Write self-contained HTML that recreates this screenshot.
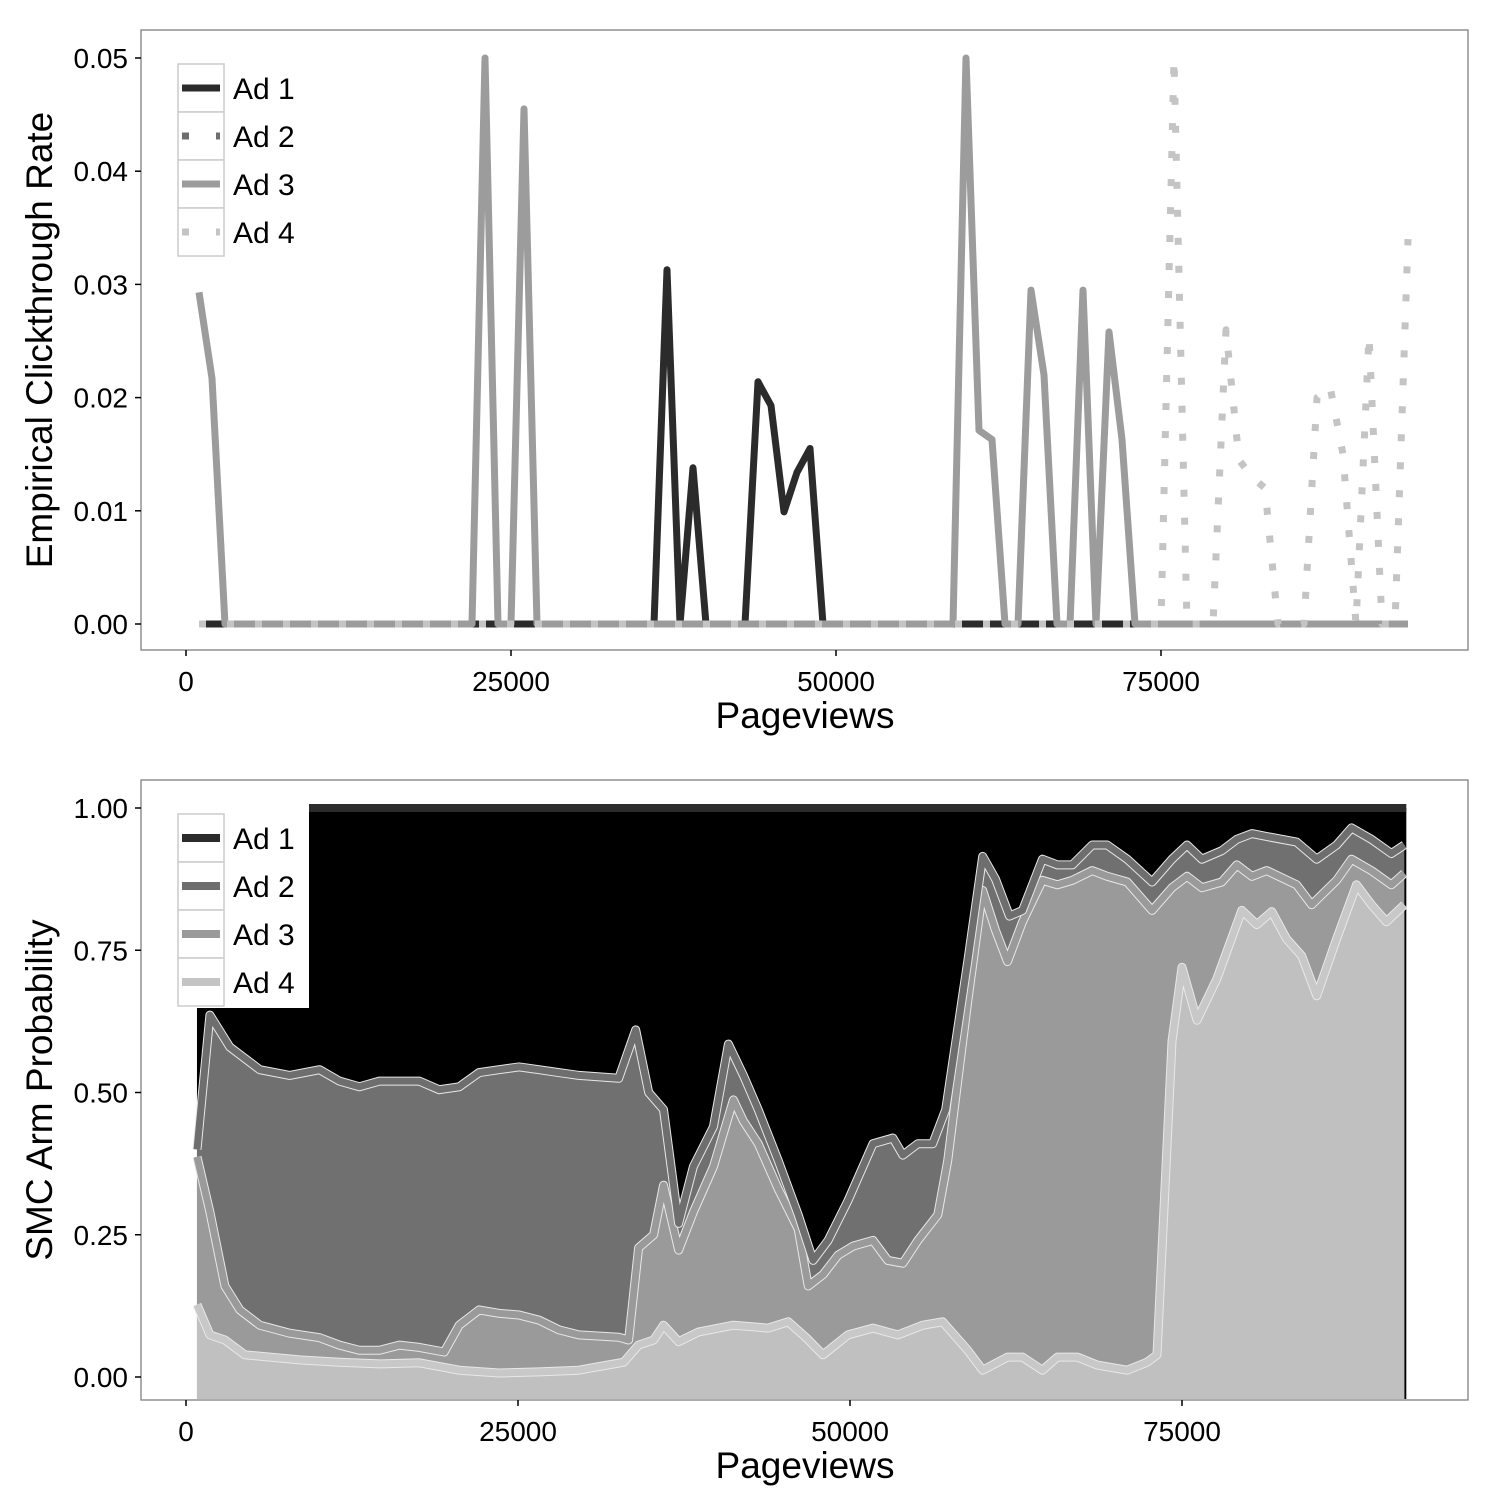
<!DOCTYPE html>
<html><head><meta charset="utf-8"><style>
html,body{margin:0;padding:0;background:#fff;}
svg{display:block;font-family:"Liberation Sans",Arial,sans-serif;}
</style></head><body>
<svg id="chart" width="1500" height="1500" viewBox="0 0 1500 1500" xmlns="http://www.w3.org/2000/svg">
<rect x="0" y="0" width="1500" height="1500" fill="#fff"/>
<g id="topPanel"></g>
<g id="botPanel"></g>
</svg>
<script>
// ---------- top chart data ----------
const ctrXTicks = [0, 25000, 50000, 75000];
const ctrXTickLabels = ["0", "25000", "50000", "75000"];
const ctrYTicks = [0, 0.01, 0.02, 0.03, 0.04, 0.05];
const ctrYTickLabels = ["0.00", "0.01", "0.02", "0.03", "0.04", "0.05"];
const seriesNames = ["Ad 1", "Ad 2", "Ad 3", "Ad 4"];
const ad1Pv = [1000, 36000, 37000, 38000, 39000, 40000, 43000, 44000, 45000, 46000, 47000, 48000, 49000, 94000];
const ad1Ctr = [0, 0, 0.0313, 0, 0.0138, 0, 0, 0.0214, 0.0193, 0.0099, 0.0134, 0.0155, 0, 0];
const ad2Pv = [1000, 94000];
const ad2Ctr = [0, 0];
const ad3Pv = [1000, 2000, 3000, 22000, 23000, 24000, 25000, 26000, 27000, 59000, 60000, 61000, 62000, 63000, 64000, 65000, 66000, 67000, 68000, 69000, 70000, 71000, 72000, 73000, 94000];
const ad3Ctr = [0.0293, 0.0217, 0, 0, 0.05, 0, 0, 0.0455, 0, 0, 0.05, 0.0171, 0.0163, 0, 0, 0.0295, 0.022, 0, 0, 0.0295, 0, 0.0258, 0.0163, 0, 0];
const ad4Pv = [1000, 75000, 76000, 77000, 79000, 80000, 81000, 82000, 83000, 84000, 86000, 87000, 88000, 89000, 90000, 91000, 92000, 93000, 94000];
const ad4Ctr = [0, 0, 0.05, 0, 0, 0.026, 0.0145, 0.013, 0.012, 0, 0, 0.02, 0.021, 0.015, 0, 0.0255, 0, 0, 0.034];

// ---------- bottom chart data (cumulative stack boundaries) ----------
const smcXTicks = [0, 25000, 50000, 75000];
const smcXTickLabels = ["0", "25000", "50000", "75000"];
const smcYTicks = [0, 0.25, 0.5, 0.75, 1];
const smcYTickLabels = ["0.00", "0.25", "0.50", "0.75", "1.00"];
const stack234Pv = [826, 1800, 3300, 5560, 7810, 10060, 11560, 13060, 14570, 16070, 17570, 19070, 20570, 22070, 23570, 25080, 26580, 28080, 29580, 32580, 33860, 34840, 35960, 37090, 38210, 39720, 40840, 41970, 43090, 44600, 46100, 47220, 48350, 49850, 51730, 53230, 53980, 55110, 56230, 57210, 58860, 59990, 60960, 62010, 62990, 64490, 65620, 66740, 68240, 69370, 70870, 72750, 74250, 75380, 76500, 78000, 79130, 80260, 81380, 83630, 85140, 86640, 87760, 89260, 90770, 91740];
const stack234Val = [0.40, 0.636, 0.58, 0.54, 0.53, 0.54, 0.52, 0.51, 0.52, 0.52, 0.52, 0.505, 0.51, 0.535, 0.54, 0.545, 0.54, 0.535, 0.53, 0.525, 0.61, 0.50, 0.47, 0.27, 0.37, 0.44, 0.585, 0.53, 0.47, 0.38, 0.285, 0.205, 0.24, 0.31, 0.41, 0.42, 0.39, 0.41, 0.41, 0.47, 0.73, 0.915, 0.875, 0.81, 0.82, 0.91, 0.90, 0.90, 0.935, 0.935, 0.91, 0.87, 0.91, 0.935, 0.91, 0.925, 0.945, 0.955, 0.95, 0.94, 0.91, 0.935, 0.965, 0.945, 0.92, 0.935];
const stack34Pv = [826, 1800, 2930, 4050, 5560, 7810, 10060, 11560, 13060, 14570, 16070, 17570, 19440, 20570, 22070, 23570, 25080, 26580, 28080, 29580, 32580, 33330, 34080, 35210, 35960, 37090, 38210, 39720, 41220, 41970, 43090, 44600, 46100, 46850, 47970, 49100, 50230, 51730, 52850, 53980, 55110, 56610, 57360, 58860, 59990, 60960, 61860, 62990, 64490, 65620, 66740, 68240, 69370, 70870, 72750, 74250, 75380, 76500, 78000, 79130, 80260, 81380, 83630, 84760, 86640, 87760, 89260, 90770, 91740];
const stack34Val = [0.387, 0.29, 0.16, 0.118, 0.091, 0.077, 0.069, 0.056, 0.047, 0.047, 0.056, 0.052, 0.044, 0.091, 0.118, 0.112, 0.109, 0.10, 0.083, 0.074, 0.07, 0.065, 0.227, 0.25, 0.337, 0.223, 0.29, 0.37, 0.487, 0.45, 0.41, 0.33, 0.26, 0.16, 0.18, 0.214, 0.23, 0.24, 0.205, 0.20, 0.24, 0.285, 0.38, 0.66, 0.855, 0.785, 0.73, 0.80, 0.873, 0.865, 0.873, 0.89, 0.88, 0.87, 0.82, 0.86, 0.88, 0.86, 0.87, 0.90, 0.88, 0.89, 0.865, 0.83, 0.873, 0.91, 0.89, 0.865, 0.885];
const stack4Pv = [826, 1800, 2930, 4430, 6310, 8560, 11560, 14570, 17570, 20570, 23570, 26580, 29580, 32960, 34080, 35210, 35960, 37090, 38590, 41220, 43840, 45350, 46700, 47970, 49850, 51730, 53600, 55480, 56980, 58860, 59990, 61860, 62990, 64490, 65620, 67120, 68620, 70870, 72370, 73120, 74250, 75000, 76130, 77630, 79500, 80630, 81760, 82880, 84010, 85140, 86640, 88140, 89260, 90390, 91740];
const stack4Val = [0.127, 0.074, 0.065, 0.039, 0.035, 0.03, 0.026, 0.023, 0.025, 0.012, 0.007, 0.009, 0.012, 0.026, 0.056, 0.065, 0.091, 0.062, 0.079, 0.091, 0.086, 0.097, 0.069, 0.039, 0.074, 0.086, 0.074, 0.091, 0.097, 0.047, 0.012, 0.035, 0.035, 0.012, 0.035, 0.035, 0.021, 0.012, 0.026, 0.039, 0.59, 0.72, 0.627, 0.70, 0.82, 0.795, 0.818, 0.77, 0.74, 0.67, 0.77, 0.865, 0.83, 0.80, 0.83];
const ad1TopVal = 1.0;

const NS = "http://www.w3.org/2000/svg";
function mk(parent, tag, attrs) {
  const e = document.createElementNS(NS, tag);
  for (const k in attrs) e.setAttribute(k, attrs[k]);
  parent.appendChild(e);
  return e;
}
function txt(parent, x, y, s, size, anchor, extra) {
  const t = mk(parent, "text", Object.assign({x: x, y: y, "font-size": size, "text-anchor": anchor, fill: "#000"}, extra || {}));
  t.textContent = s;
  return t;
}

// ---------- TOP ----------
const topG = document.getElementById("topPanel");
const P1 = {l: 141, r: 1468, t: 30, b: 650};
const tx = v => 186 + v * (511 - 186) / 25000;
const ty = v => 624 - v * (624 - 58) / 0.05;
mk(topG, "rect", {x: P1.l, y: P1.t, width: P1.r - P1.l, height: P1.b - P1.t, fill: "#fff", stroke: "#7f7f7f", "stroke-width": 1.3});
ctrYTicks.forEach((v, i) => {
  const y = ty(v);
  const tk = mk(topG, "line", {x1: P1.l - 6, x2: P1.l, y1: y, y2: y, stroke: "#000", "stroke-width": 1.5});
  
  
  const lb = txt(topG, 128, y + 10, ctrYTickLabels[i], 28, "end");
  
  
});
ctrXTicks.forEach((v, i) => {
  const x = tx(v);
  const tk = mk(topG, "line", {x1: x, x2: x, y1: P1.b, y2: P1.b + 6, stroke: "#000", "stroke-width": 1.5});
  
  
  const lb = txt(topG, x, 691, ctrXTickLabels[i], 28, "middle");
  
  
});
const xt1 = txt(topG, 805, 728, "Pageviews", 37, "middle");


const yt1 = txt(topG, 0, 0, "Empirical Clickthrough Rate", 37, "middle", {transform: "translate(52,340) rotate(-90)"});



const ctrSeries = [
  {pv: ad1Pv, v: ad1Ctr, color: "#2b2b2b", dash: null, name: "ad-1-line"},
  {pv: ad2Pv, v: ad2Ctr, color: "#6e6e6e", dash: "7 21", name: "ad-2-line"},
  {pv: ad3Pv, v: ad3Ctr, color: "#9c9c9c", dash: null, name: "ad-3-line"},
  {pv: ad4Pv, v: ad4Ctr, color: "#c4c4c4", dash: "7 21", name: "ad-4-line"}
];
ctrSeries.forEach(s => {
  const d = s.pv.map((p, i) => (i ? "L" : "M") + tx(p).toFixed(1) + "," + ty(s.v[i]).toFixed(1)).join(" ");
  const a = {d: d, fill: "none", stroke: s.color, "stroke-width": 7, "stroke-linejoin": "round"};
  if (s.dash) a["stroke-dasharray"] = s.dash;
  const p = mk(topG, "path", a);
  
  
});
const lg1 = mk(topG, "g", {});


mk(lg1, "rect", {x: 172, y: 60, width: 138, height: 200, fill: "#fff"});
seriesNames.forEach((n, i) => {
  const y0 = 64 + i * 48;
  mk(lg1, "rect", {x: 178, y: y0, width: 46, height: 48, fill: "#fff", stroke: "#cccccc", "stroke-width": 1.5});
  const s = ctrSeries[i];
  const a = {x1: 182, x2: 220, y1: y0 + 24, y2: y0 + 24, stroke: s.color, "stroke-width": 7};
  if (s.dash) a["stroke-dasharray"] = "7 27";
  mk(lg1, "line", a);
  const t = txt(lg1, 233, y0 + 35, n, 30, "start");
  
  
});

// ---------- BOTTOM ----------
const botG = document.getElementById("botPanel");
const P2 = {l: 141, r: 1468, t: 780, b: 1400};
const bx = v => 186 + v * (518 - 186) / 25000;
const by = v => 1377 - v * (1377 - 808);
mk(botG, "rect", {x: P2.l, y: P2.t, width: P2.r - P2.l, height: P2.b - P2.t, fill: "#fff", stroke: "#7f7f7f", "stroke-width": 1.3});
const g = mk(botG, "g", {});
function linePts(pv, val) { return pv.map((p, i) => bx(p).toFixed(1) + "," + by(val[i]).toFixed(1)); }
function area(pv, val, fill, name) {
  const pts = linePts(pv, val);
  const d = "M" + bx(pv[0]).toFixed(1) + "," + (P2.b - 1) + " L" + pts.join(" L") + " L" + bx(pv[pv.length - 1]).toFixed(1) + "," + (P2.b - 1) + " Z";
  const p = mk(g, "path", {d: d, fill: fill});
  
  
}
const x0 = bx(stack234Pv[0]), x1 = bx(stack234Pv[stack234Pv.length - 1]);
const a1 = mk(g, "rect", {x: x0, y: by(ad1TopVal), width: x1 - x0 + 2, height: P2.b - 1 - by(ad1TopVal), fill: "#000"});


area(stack234Pv, stack234Val, "#707070", "ad-2-area");
area(stack34Pv, stack34Val, "#9a9a9a", "ad-3-area");
area(stack4Pv, stack4Val, "#c0c0c0", "ad-4-area");
function bline(pv, val, color, name) {
  const d = "M" + linePts(pv, val).join(" L");
  mk(g, "path", {d: d, fill: "none", stroke: "#e8e8e8", "stroke-width": 9, "stroke-linejoin": "round"});
  const p = mk(g, "path", {d: d, fill: "none", stroke: color, "stroke-width": 7, "stroke-linejoin": "round"});
  
  
}
bline(stack4Pv, stack4Val, "#c8c8c8", "ad-4-line");
bline(stack34Pv, stack34Val, "#9a9a9a", "ad-3-line");
bline(stack234Pv, stack234Val, "#6e6e6e", "ad-2-line");
const l1 = mk(g, "line", {x1: x0, x2: x1 + 2, y1: by(ad1TopVal), y2: by(ad1TopVal), stroke: "#2b2b2b", "stroke-width": 8});



smcYTicks.forEach((v, i) => {
  const y = by(v);
  const tk = mk(botG, "line", {x1: P2.l - 6, x2: P2.l, y1: y, y2: y, stroke: "#000", "stroke-width": 1.5});
  
  
  const lb = txt(botG, 128, y + 10, smcYTickLabels[i], 28, "end");
  
  
});
smcXTicks.forEach((v, i) => {
  const x = bx(v);
  const tk = mk(botG, "line", {x1: x, x2: x, y1: P2.b, y2: P2.b + 6, stroke: "#000", "stroke-width": 1.5});
  
  
  const lb = txt(botG, x, 1441, smcXTickLabels[i], 28, "middle");
  
  
});
const xt2 = txt(botG, 805, 1478, "Pageviews", 37, "middle");


const yt2 = txt(botG, 0, 0, "SMC Arm Probability", 37, "middle", {transform: "translate(52,1090) rotate(-90)"});



const lg2 = mk(botG, "g", {});


mk(lg2, "rect", {x: 172, y: 803, width: 137, height: 205, fill: "#fff"});
const legCols = ["#2b2b2b", "#6e6e6e", "#9a9a9a", "#c4c4c4"];
seriesNames.forEach((n, i) => {
  const y0 = 814 + i * 48;
  mk(lg2, "rect", {x: 178, y: y0, width: 46, height: 48, fill: "#fff", stroke: "#cccccc", "stroke-width": 1.5});
  mk(lg2, "line", {x1: 182, x2: 220, y1: y0 + 24, y2: y0 + 24, stroke: legCols[i], "stroke-width": 8});
  const t = txt(lg2, 233, y0 + 35, n, 30, "start");
  
  
});
</script>
</body></html>
